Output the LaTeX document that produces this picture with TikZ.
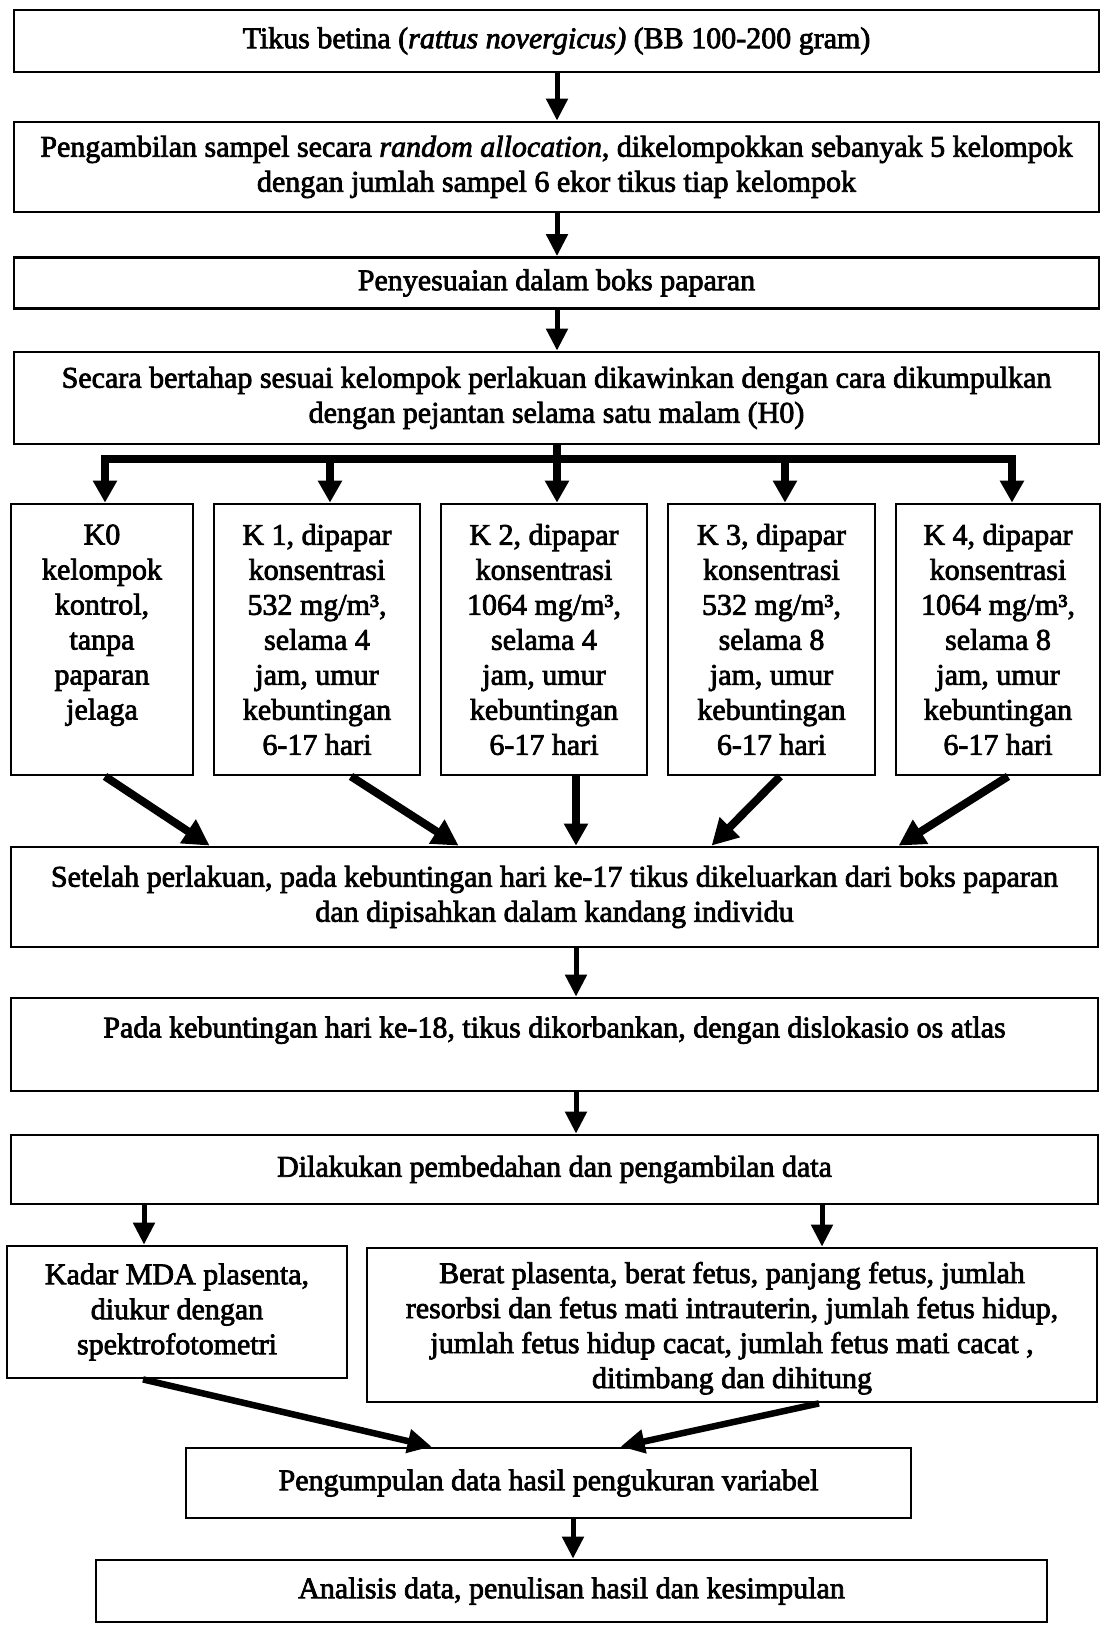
\documentclass[tikz,border=0pt]{standalone}
\usepackage{fontspec}
\setmainfont{Liberation Serif}[FakeBold=2.5]
\usetikzlibrary{arrows.meta,calc}
\begin{document}
\begin{tikzpicture}[x=1pt,y=-1pt,
  box/.style={draw, line width=2.8pt, inner sep=0pt, align=center,
    font=\fontsize{30}{35}\selectfont},
  varrow/.style={line width=5pt, -{Triangle[width=21pt,length=22pt]}},
  barrow/.style={line width=7.5pt, line join=miter, -{Triangle[width=23pt,length=22pt]}},
  darrow/.style={line width=8pt, -{Triangle[width=27pt,length=26pt]}},
  larrow/.style={line width=6.5pt, -{Triangle[width=23pt,length=24pt]}}]
\fill[white] (0,0) rectangle (1102,1625);
\useasboundingbox (0,0) rectangle (1102,1625);

% column coordinates
\coordinate (cA) at (557,0);
\coordinate (cB) at (576,0);
\coordinate (cC) at (573,0);
\coordinate (cL) at (144,0);
\coordinate (cR) at (822,0);

\node[box, minimum width=1085, minimum height=62] (b1) at (556.5,41)
  {Tikus betina (\textit{rattus novergicus)} (BB 100-200 gram)};
\node[box, minimum width=1085, minimum height=90] (b2) at (556.5,167)
  {Pengambilan sampel secara \textit{random allocation}, dikelompokkan sebanyak 5 kelompok\\
   dengan jumlah sampel 6 ekor tikus tiap kelompok};
\node[box, minimum width=1085, minimum height=51] (b3) at (556.5,283)
  {Penyesuaian dalam boks paparan};
\node[box, minimum width=1085, minimum height=92] (b4) at (556.5,398)
  {Secara bertahap sesuai kelompok perlakuan dikawinkan dengan cara dikumpulkan\\
   dengan pejantan selama satu malam (H0)};

\node[box, minimum width=182, minimum height=271] (k0) at (102,639.5)
  {K0\\kelompok\\kontrol,\\tanpa\\paparan\\jelaga\\\mbox{}};
\node[box, minimum width=206, minimum height=271] (k1) at (317,639.5)
  {K 1, dipapar\\konsentrasi\\532 mg/m³,\\selama 4\\jam, umur\\kebuntingan\\6-17 hari};
\node[box, minimum width=206, minimum height=271] (k2) at (544,639.5)
  {K 2, dipapar\\konsentrasi\\1064 mg/m³,\\selama 4\\jam, umur\\kebuntingan\\6-17 hari};
\node[box, minimum width=207, minimum height=271] (k3) at (771.5,639.5)
  {K 3, dipapar\\konsentrasi\\532 mg/m³,\\selama 8\\jam, umur\\kebuntingan\\6-17 hari};
\node[box, minimum width=204, minimum height=271] (k4) at (998,639.5)
  {K 4, dipapar\\konsentrasi\\1064 mg/m³,\\selama 8\\jam, umur\\kebuntingan\\6-17 hari};

\node[box, minimum width=1087, minimum height=100] (setelah) at (554.5,897)
  {Setelah perlakuan, pada kebuntingan hari ke-17 tikus dikeluarkan dari boks paparan\\
   dan dipisahkan dalam kandang individu};
\node[box, minimum width=1087, minimum height=93] (pada) at (554.5,1044.5)
  {Pada kebuntingan hari ke-18, tikus dikorbankan, dengan dislokasio os atlas\\\mbox{}};
\node[box, minimum width=1087, minimum height=69] (dil) at (554.5,1169.5)
  {Dilakukan pembedahan dan pengambilan data};
\node[box, minimum width=340, minimum height=132] (kadar) at (177,1312)
  {Kadar MDA plasenta,\\diukur dengan\\spektrofotometri};
\node[box, minimum width=730, minimum height=154, text depth=0pt] (berat) at (732,1325)
  {Berat plasenta, berat fetus, panjang fetus, jumlah\\
   resorbsi dan fetus mati intrauterin, jumlah fetus hidup,\\
   jumlah fetus hidup cacat, jumlah fetus mati cacat ,\\
   ditimbang dan dihitung};
\node[box, minimum width=725, minimum height=70] (peng) at (548.5,1483)
  {Pengumpulan data hasil pengukuran variabel};
\node[box, minimum width=951, minimum height=62] (anal) at (571.5,1591)
  {Analisis data, penulisan hasil dan kesimpulan};

% main vertical arrows
\draw[varrow] (b1.south -| cA) -- (b2.north -| cA);
\draw[varrow] (b2.south -| cA) -- (b3.north -| cA);
\draw[varrow] (b3.south -| cA) -- (b4.north -| cA);

% distribution bar
\coordinate (j0) at (105,459);
\coordinate (j1) at (330,459);
\coordinate (j2) at (557,459);
\coordinate (j3) at (785,459);
\coordinate (j4) at (1012,459);
\draw[barrow] (b4.south -| j2) -- (k2.north -| j2);
\draw[barrow] (j2) -| (k0.north -| j0);
\draw[barrow] (j2) -| (k4.north -| j4);
\draw[barrow] (j1) -- (k1.north -| j1);
\draw[barrow] (j3) -- (k3.north -| j3);

% converging arrows
\draw[darrow] ([xshift=3pt]k0.south) -- ($(setelah.north west)+(200,0)$);
\draw[darrow] ([xshift=34pt]k1.south) -- ($(setelah.north west)+(449,0)$);
\draw[barrow] ([xshift=32pt]k2.south) -- (setelah.north -| cB);
\draw[darrow] ([xshift=8.5pt]k3.south) -- ($(setelah.north west)+(702,0)$);
\draw[darrow] ([xshift=10pt]k4.south) -- ($(setelah.north west)+(889,0)$);

\draw[varrow] (setelah.south -| cB) -- (pada.north -| cB);
\draw[varrow] (pada.south -| cB) -- (dil.north -| cB);
\draw[varrow] (dil.south -| cL) -- (kadar.north -| cL);
\draw[varrow] (dil.south -| cR) -- (berat.north -| cR);

\draw[larrow] ([xshift=-34pt]kadar.south) -- ($(peng.north west)+(247,0)$);
\draw[larrow] ([xshift=87pt]berat.south) -- ($(peng.north west)+(436,0)$);
\draw[varrow] (peng.south -| cC) -- (anal.north -| cC);
\end{tikzpicture}
\end{document}
